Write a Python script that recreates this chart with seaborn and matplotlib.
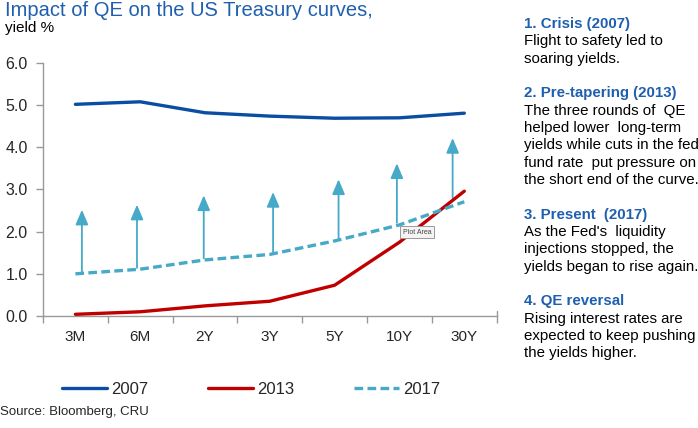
import numpy as np
import pandas as pd
import seaborn as sns
import matplotlib.pyplot as plt

# ---- data ----
maturities = ["3M", "6M", "2Y", "3Y", "5Y", "10Y", "30Y"]
yield_2007 = [5.02, 5.08, 4.82, 4.74, 4.69, 4.70, 4.81]
yield_2013 = [0.04, 0.10, 0.24, 0.35, 0.73, 1.75, 2.96]
yield_2017 = [1.00, 1.11, 1.33, 1.46, 1.78, 2.16, 2.71]

# arrows: from 2017 curve up to an arbitrary tip
arrow_base = [1.00, 1.14, 1.37, 1.49, 1.80, 2.21, 2.80]
arrow_tip = [2.52, 2.64, 2.86, 2.94, 3.24, 3.62, 4.22]
arrow_shift = [0.10, -0.05, -0.02, 0.05, 0.06, -0.04, -0.18]

notes = [
    ("1. Crisis (2007)", ["Flight to safety led to", "soaring yields."]),
    ("2. Pre-tapering (2013)", ["The three rounds of  QE", "helped lower  long-term",
                                "yields while cuts in the fed", "fund rate  put pressure on",
                                "the short end of the curve."]),
    ("3. Present  (2017)", ["As the Fed's  liquidity", "injections stopped, the",
                            "yields began to rise again."]),
    ("4. QE reversal", ["Rising interest rates are", "expected to keep pushing",
                        "the yields higher."]),
]

df = pd.DataFrame({"mat": maturities, "2007": yield_2007,
                   "2013": yield_2013, "2017": yield_2017})
df["pos"] = np.arange(len(maturities))

sns.set_theme(style="white")
plt.rcParams["font.family"] = ["Liberation Sans", "DejaVu Sans"]

blue = "#0A4DA2"
red = "#C00000"
cyan = "#46A9C8"
title_blue = "#1F5FAF"
txt = "#262626"

fig = plt.figure(figsize=(6.98, 4.28), dpi=100)
ax = fig.add_axes([0.0616, 0.2617, 0.6500, 0.5911])

# arrows behind the curves
for i in range(len(maturities)):
    x = df["pos"][i] + arrow_shift[i]
    ax.annotate("", xy=(x, arrow_tip[i]), xytext=(x, arrow_base[i]),
                arrowprops=dict(arrowstyle="-|>,head_length=0.75,head_width=0.32",
                                color="#7CC3D9", lw=1.3, shrinkA=0, shrinkB=0,
                                mutation_scale=12, fc=cyan, ec=cyan),
                zorder=1)

sns.lineplot(data=df, x="pos", y="2007", ax=ax, color=blue, lw=2.4, label="2007", zorder=3)
sns.lineplot(data=df, x="pos", y="2013", ax=ax, color=red, lw=2.4, label="2013", zorder=3)
sns.lineplot(data=df, x="pos", y="2017", ax=ax, color=cyan, lw=2.4, label="2017",
             linestyle=(0, (2.6, 1.3)), zorder=3)

ax.set_xlim(-0.5, len(maturities) - 0.5)
ax.set_ylim(0, 6)
ax.set_xlabel("")
ax.set_ylabel("")
ax.set_yticks(np.arange(0, 6.1, 1.0))
ax.set_yticklabels([f"{v:.1f}" for v in np.arange(0, 6.1, 1.0)], fontsize=11.5, color=txt)
ax.set_xticks(df["pos"])
ax.set_xticklabels(maturities, fontsize=11, color=txt)
ax.set_xticks(np.arange(-0.5, len(maturities)), minor=True)
ax.tick_params(axis="x", which="major", length=0, pad=10)
ax.tick_params(axis="x", which="minor", length=5, color="#999999", width=1, direction="out")
ax.tick_params(axis="y", length=5, color="#999999", width=1, direction="out", pad=6)
ax.xaxis.set_ticks_position("bottom")
ax.yaxis.set_ticks_position("left")
for s in ["top", "right"]:
    ax.spines[s].set_visible(False)
for s in ["left", "bottom"]:
    ax.spines[s].set_color("#999999")
    ax.spines[s].set_linewidth(1)
# small end tick at the right
ax.plot([len(maturities) - 0.5] * 2, [0, 0.12], color="#999999", lw=1, clip_on=False)

handles, labels = ax.get_legend_handles_labels()
ax.get_legend().remove()
fig.legend(handles, labels, loc="center", bbox_to_anchor=(0.36, 0.091), ncol=3,
           frameon=False, fontsize=12, handlelength=2.7, columnspacing=3.6,
           handletextpad=0.25, labelcolor=txt)

# "Plot Area" tooltip left over from the screenshot
ax.text(5.05, 1.95, "Plot Area", fontsize=5, color="#444444", zorder=5,
        bbox=dict(boxstyle="square,pad=0.35", fc="#f4f4f4", ec="#9a9a9a", lw=0.7))

fig.text(0.007, 0.975, "Impact of QE on the US Treasury curves,", fontsize=14.5,
         color=title_blue, va="center", ha="left")
fig.text(0.007, 0.935, "yield %", fontsize=11, color="black", va="center", ha="left")
fig.text(0.0, 0.037, "Source: Bloomberg, CRU", fontsize=9.5, color=txt, va="center", ha="left")

# side notes
y = 428 - 24
for head, body in notes:
    fig.text(524 / 698, y / 428, head, fontsize=10.8, fontweight="bold",
             color=title_blue, va="center", ha="left")
    y -= 17.3
    for line in body:
        fig.text(524 / 698, y / 428, line, fontsize=10.8, color="black",
                 va="center", ha="left")
        y -= 17.3
    y -= 17.5

fig.savefig("out.png", dpi=100)
